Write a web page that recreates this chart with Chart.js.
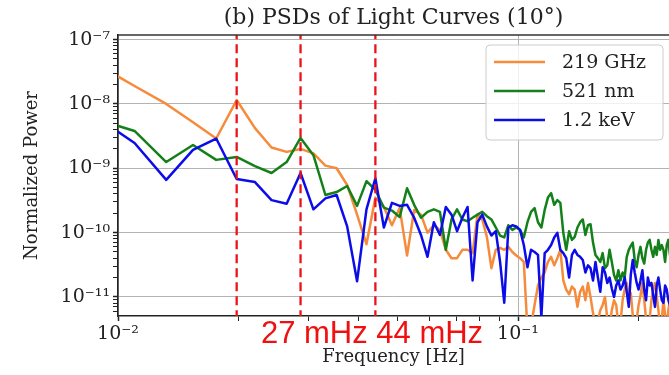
<!DOCTYPE html>
<html>
<head>
<meta charset="utf-8">
<script src="https://cdn.jsdelivr.net/npm/chart.js@4.4.0/dist/chart.umd.min.js"></script>
<style>
  html, body { margin: 0; padding: 0; background: #fff; }
  canvas { display: block; }
</style>
</head>
<body>
<canvas id="psd" width="669" height="375"></canvas>
<script>
// Frequency bins of the PSDs [Hz]
const freqs = [
  0.0088, 0.011, 0.0132, 0.0154, 0.0176, 0.0198, 0.022, 0.0242, 0.0264, 0.0286,
  0.0308, 0.033, 0.0352, 0.0374, 0.0396, 0.0418, 0.044, 0.0462, 0.0484, 0.0506,
  0.0528, 0.055, 0.0572, 0.0594, 0.0616, 0.0638, 0.066, 0.0682, 0.0704, 0.0726,
  0.0748, 0.077, 0.0792, 0.0814, 0.0836, 0.0858, 0.088, 0.0902, 0.0924, 0.0946,
  0.0968, 0.099, 0.1012, 0.1034, 0.1056, 0.1078, 0.11, 0.1122, 0.1144, 0.1166,
  0.1188, 0.121, 0.1232, 0.1254, 0.1276, 0.1298, 0.132, 0.1342, 0.1364, 0.1386,
  0.1408, 0.143, 0.1452, 0.1474, 0.1496, 0.1518, 0.154, 0.1562, 0.1584, 0.1606,
  0.1628, 0.165, 0.1672, 0.1694, 0.1716, 0.1738, 0.176, 0.1782, 0.1804, 0.1826,
  0.1848, 0.187, 0.1892, 0.1914, 0.1936, 0.1958, 0.198, 0.2002, 0.2024, 0.2046,
  0.2068, 0.209, 0.2112, 0.2134, 0.2156, 0.2178, 0.22, 0.2222, 0.2244, 0.2266,
  0.2288, 0.231, 0.2332, 0.2354, 0.2376, 0.2398
];

// Normalized power, 219 GHz
const power219GHz = [
  4.2e-8, 1.9e-8, 1.0e-8, 5.2e-9, 2.9e-9, 1.15e-8, 4.2e-9, 2.1e-9, 1.8e-9, 2.0e-9,
  1.7e-9, 1.1e-9, 1.0e-9, 5.5e-10, 1.9e-10, 6.6e-11, 3.5e-10, 2.5e-10, 1.3e-10, 2.4e-10,
  4.4e-11, 2.25e-10, 1.9e-10, 1.0e-10, 1.3e-10, 1.1e-10, 5.4e-11, 4.0e-11, 4.0e-11, 5.4e-11,
  5.4e-11, 4.8e-11, 1.9e-10, 1.6e-10, 8.6e-11, 2.8e-11, 5.4e-11, 5.8e-11, 5.4e-11, 6.0e-11,
  5.0e-11, 4.4e-11, 4.0e-11, 3.5e-11, 3.0e-12, 3.6e-12, 7.5e-12, 1.5e-11, 2.0e-11, 2.4e-11,
  3.5e-11, 4.2e-11, 3.1e-11, 4.0e-11, 5.4e-11, 1.8e-11, 1.3e-11, 1.1e-11, 1.45e-11, 1.3e-11,
  7.0e-12, 1.2e-11, 1.45e-11, 8.9e-12, 1.65e-11, 1.0e-11, 5.6e-12, 3.6e-12, 4.4e-12, 6.2e-12,
  7.5e-12, 1.0e-11, 4.6e-12, 3.4e-12, 6.2e-12, 8.9e-12, 7.5e-12, 3.6e-12, 4.0e-12, 8.9e-12,
  1.3e-11, 1.65e-11, 8.9e-12, 1.15e-11, 5.2e-12, 3.6e-12, 4.4e-12, 7.5e-12, 1.05e-11, 1.65e-11,
  8.9e-12, 4.6e-12, 3.6e-12, 4.6e-12, 8.9e-12, 1.3e-11, 1.65e-11, 1.05e-11, 6.2e-12, 3.6e-12,
  4.4e-12, 8.9e-12, 5.2e-12, 3.6e-12, 6.2e-12, 8.9e-12
];

// Normalized power, 521 nm
const power521nm = [
  5.85e-9, 3.8e-9, 1.25e-9, 2.3e-9, 1.35e-9, 1.5e-9, 1.08e-9, 8.45e-10, 1.25e-9, 2.96e-9,
  1.6e-9, 3.84e-10, 4.27e-10, 5.3e-10, 2.6e-10, 6.3e-10, 4.6e-10, 2.45e-10, 2.2e-10, 1.75e-10,
  4.9e-10, 2.7e-10, 1.7e-10, 2.1e-10, 2.3e-10, 2.1e-10, 5.4e-11, 1.6e-10, 2.3e-10, 1.6e-10,
  1.5e-10, 1.7e-10, 1.9e-10, 2.1e-10, 1.8e-10, 1.6e-10, 1.2e-10, 9.0e-11, 8.4e-11, 1.3e-10,
  1.1e-10, 1.2e-10, 1.1e-10, 8.4e-11, 1.45e-10, 2.1e-10, 2.4e-10, 1.45e-10, 1.2e-10, 2.25e-10,
  3.5e-10, 4.1e-10, 2.7e-10, 3.2e-10, 2.9e-10, 9.9e-11, 5.4e-11, 1.05e-10, 7.7e-11, 8.6e-11,
  1.2e-10, 1.45e-10, 1.6e-10, 9.2e-11, 1.3e-10, 1.35e-10, 7.0e-11, 4.5e-11, 4.0e-11, 3.5e-11,
  4.8e-11, 2.8e-11, 3.1e-11, 5.4e-11, 3.5e-11, 2.2e-11, 1.8e-11, 2.6e-11, 1.8e-11, 2.4e-11,
  2.0e-11, 4.2e-11, 5.4e-11, 6.2e-11, 7.0e-11, 3.75e-11, 2.9e-11, 4.5e-11, 6.0e-11, 4.0e-11,
  3.3e-11, 5.4e-11, 7.0e-11, 7.7e-11, 5.4e-11, 4.2e-11, 6.0e-11, 4.5e-11, 7.7e-11, 5.4e-11,
  6.4e-11, 5.4e-11, 3.5e-11, 6.4e-11, 7.7e-11, 4.5e-11
];

// Normalized power, 1.2 keV
const power12keV = [
  6.3e-9, 2.47e-9, 6.6e-10, 1.93e-9, 2.9e-9, 6.8e-10, 6.1e-10, 3.2e-10, 2.8e-10, 8.45e-10,
  2.3e-10, 3.4e-10, 3.84e-10, 1.25e-10, 1.75e-11, 2.3e-10, 7.0e-10, 1.2e-10, 2.9e-10, 2.6e-10,
  2.7e-10, 1.7e-10, 9.2e-11, 4.2e-11, 1.45e-10, 9.2e-11, 2.5e-10, 1.9e-10, 1.05e-10, 1.7e-10,
  2.5e-10, 1.8e-11, 1.45e-10, 1.9e-10, 1.25e-10, 9.0e-11, 1.05e-10, 3.5e-11, 8.1e-12, 1.2e-10,
  1.3e-10, 1.25e-10, 1.1e-10, 6.4e-11, 2.9e-11, 5.4e-11, 5.0e-11, 4.5e-11, 4.9e-12, 4.8e-11,
  5.4e-11, 6.4e-11, 8.4e-11, 9.9e-11, 5.4e-11, 4.8e-11, 4.0e-11, 2.0e-11, 4.5e-11, 5.4e-11,
  4.5e-11, 4.2e-11, 3.75e-11, 2.4e-11, 3.1e-11, 2.8e-11, 1.8e-11, 3.5e-11, 2.0e-11, 1.2e-11,
  2.9e-11, 2.4e-11, 1.65e-11, 2.0e-11, 1.35e-11, 1.0e-11, 1.5e-11, 1.8e-11, 1.3e-11, 1.5e-11,
  2.0e-11, 1.2e-11, 7.0e-12, 2.2e-11, 3.75e-11, 2.4e-11, 1.65e-11, 1.3e-11, 1.8e-11, 2.6e-11,
  1.3e-11, 8.9e-12, 2.0e-11, 1.5e-11, 1.65e-11, 1.05e-11, 7.0e-12, 1.5e-11, 2.0e-11, 1.3e-11,
  8.9e-12, 8.1e-12, 1.5e-11, 1.3e-11, 8.9e-12, 7.5e-12
];

const seriesNames = ['219 GHz', '521 nm', '1.2 keV'];
const seriesColors = ['#f58b3b', '#14801a', '#0c0ce8'];

// Frequencies marked by the red dashed lines, and the note under the axis
const markFreqs = [0.0198, 0.0286, 0.044];
const markNote = '27 mHz 44 mHz';

// Axis ranges and decade ticks
const xRange = [0.01, 0.2385];
const yRange = [5.05e-12, 1.18e-7];
const xDecades = [-2, -1];
const yDecades = [-12, -11, -10, -9, -8, -7];

const serif = 'DejaVu Serif';
const textColor = '#222';

// Minor ticks: 1..9 times each decade, kept inside the range
function logTicks(decades, range) {
    const out = [];
    decades.forEach(d => {
        for (let m = 1; m <= 9; m++) {
            const v = m * Math.pow(10, d);
            if (v >= range[0] * 0.999 && v <= range[1] * 1.001) out.push(v);
        }
    });
    return out;
}

function isDecade(v) {
    const l = Math.log10(v);
    return Math.abs(l - Math.round(l)) < 1e-6;
}

// 10 with a superscript exponent
const sup = { '-': '\u207B', '0': '\u2070', '1': '\u00B9', '2': '\u00B2', '3': '\u00B3', '4': '\u2074',
    '5': '\u2075', '6': '\u2076', '7': '\u2077', '8': '\u2078', '9': '\u2079' };
function decadeLabel(v) {
    if (!isDecade(v)) return '';
    const e = String(Math.round(Math.log10(v)));
    return '10' + e.split('').map(c => sup[c]).join('');
}

const toPoints = (ys) => freqs.map((f, i) => ({ x: f, y: ys[i] }));

const datasets = [
    { label: seriesNames[0], data: toPoints(power219GHz), borderColor: seriesColors[0], order: 3 },
    { label: seriesNames[1], data: toPoints(power521nm), borderColor: seriesColors[1], order: 2 },
    { label: seriesNames[2], data: toPoints(power12keV), borderColor: seriesColors[2], order: 1 },
].map(d => Object.assign(d, {
    borderWidth: 2.5, pointRadius: 0, tension: 0, fill: false,
    borderJoinStyle: 'round', borderCapStyle: 'round',
}));

// Vertical dashed markers, drawn through the same scales
markFreqs.forEach(f => {
    datasets.push({
        label: 'mark',
        data: [{ x: f, y: 1e-12 }, { x: f, y: 1e-6 }],
        borderColor: '#e8141b',
        borderWidth: 2.3,
        borderDash: [9, 5],
        pointRadius: 0,
        order: 0,
    });
});

const gridColor = (ctx) => (ctx.tick && isDecade(ctx.tick.value)) ? '#b3b3b3' : 'rgba(0,0,0,0)';
const tickWidth = (ctx) => (ctx.tick && isDecade(ctx.tick.value)) ? 1.5 : 1;

// Top spine, legend box and the red note
const extras = {
    id: 'extras',
    afterDraw(chart) {
        const { ctx, chartArea } = chart;
        ctx.save();

        ctx.strokeStyle = '#333';
        ctx.lineWidth = 1.6;
        ctx.beginPath();
        ctx.moveTo(chartArea.left, chartArea.top);
        ctx.lineTo(chartArea.right, chartArea.top);
        ctx.stroke();

        // legend
        const bx = chartArea.right - 183, by = chartArea.top + 10, bw = 177, bh = 95;
        ctx.beginPath();
        ctx.roundRect(bx, by, bw, bh, 4);
        ctx.fillStyle = 'rgba(255,255,255,0.8)';
        ctx.fill();
        ctx.strokeStyle = '#cccccc';
        ctx.lineWidth = 1;
        ctx.stroke();

        ctx.font = '19px "' + serif + '"';
        ctx.textBaseline = 'middle';
        ctx.textAlign = 'left';
        seriesNames.forEach((name, i) => {
            const y = by + 17 + i * 29;
            ctx.strokeStyle = seriesColors[i];
            ctx.lineWidth = 2.5;
            ctx.beginPath();
            ctx.moveTo(bx + 8, y);
            ctx.lineTo(bx + 59, y);
            ctx.stroke();
            ctx.fillStyle = textColor;
            ctx.fillText(name, bx + 76, y + 1);
        });

        // red note below the axis
        ctx.font = '31px "Liberation Sans"';
        ctx.fillStyle = '#f01010';
        ctx.textAlign = 'center';
        ctx.textBaseline = 'middle';
        ctx.fillText(markNote, 372, 334);

        ctx.restore();
    }
};

Chart.defaults.font.family = serif;
Chart.defaults.color = textColor;

new Chart(document.getElementById('psd'), {
    type: 'line',
    data: { datasets: datasets },
    options: {
        responsive: false,
        animation: false,
        devicePixelRatio: 1,
        layout: { padding: 0 },
        plugins: {
            legend: { display: false },
            tooltip: { enabled: false },
            title: {
                display: true,
                text: '(b) PSDs of Light Curves (10\u00B0)',
                fullSize: false,
                font: { size: 22, weight: 'normal' },
                padding: { top: 5, bottom: 3.6 },
                color: textColor,
            },
        },
        scales: {
            x: {
                type: 'logarithmic',
                min: xRange[0],
                max: xRange[1],
                afterBuildTicks: (scale) => {
                    scale.ticks = logTicks(xDecades, xRange).map(v => ({ value: v }));
                },
                afterFit: (scale) => { scale.height = 59; },
                ticks: {
                    callback: (v) => decadeLabel(v),
                    autoSkip: false,
                    maxRotation: 0,
                    padding: 2,
                    font: { size: 19 },
                    color: textColor,
                },
                grid: { color: gridColor, tickColor: '#222', tickWidth: tickWidth, tickLength: 5, lineWidth: 1 },
                border: { color: '#222', width: 1.6 },
                title: {
                    display: true,
                    text: 'Frequency [Hz]',
                    font: { size: 18 },
                    padding: { top: 0, bottom: 7 },
                    color: textColor,
                },
            },
            y: {
                type: 'logarithmic',
                min: yRange[0],
                max: yRange[1],
                afterBuildTicks: (scale) => {
                    scale.ticks = logTicks(yDecades, yRange).map(v => ({ value: v }));
                },
                afterFit: (scale) => { scale.width = 118; },
                ticks: {
                    callback: (v) => decadeLabel(v),
                    autoSkip: false,
                    padding: 3,
                    font: { size: 19 },
                    color: textColor,
                },
                grid: { color: gridColor, tickColor: '#222', tickWidth: tickWidth, tickLength: 5, lineWidth: 1 },
                border: { color: '#222', width: 1.6 },
                title: {
                    display: true,
                    text: 'Normalized Power',
                    font: { size: 18 },
                    padding: { top: 22, bottom: 0 },
                    color: textColor,
                },
            },
        },
    },
    plugins: [extras],
});
</script>
</body>
</html>
